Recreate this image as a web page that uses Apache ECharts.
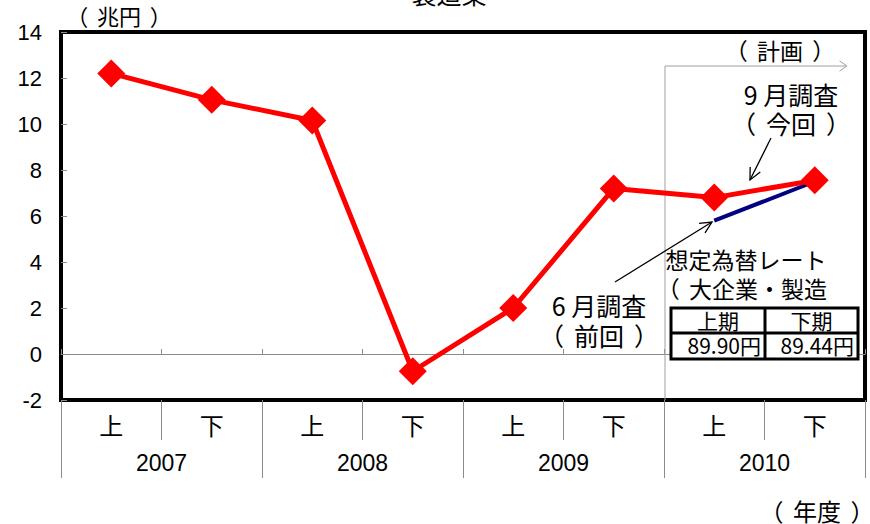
<!DOCTYPE html>
<html>
<head>
<meta charset="utf-8">
<script src="https://cdn.jsdelivr.net/npm/echarts@6/dist/echarts.min.js"></script>
<style>
html,body{margin:0;padding:0;background:#fff;}
#c{width:870px;height:524px;}
</style>
</head>
<body>
<div id="c"></div>
<script>
// ---- data ----
const halves = ['上', '下', '上', '下', '上', '下', '上', '下'];
const years = ['2007', '2008', '2009', '2010'];
const profitSept = [12.2, 11.05, 10.15, -0.75, 2.0, 7.2, 6.8, 7.55];      // 9月調査（今回）
const profitJune = [null, null, null, null, null, null, 5.8, 7.5];       // 6月調査（前回）
const yTicks = { min: -2, max: 14, interval: 2 };
const fxHeaders = ['上期', '下期'];
const fxValues = ['89.90円', '89.44円'];

const CJK = '"Noto Sans CJK JP", "Noto Sans CJK SC", sans-serif';
const LAT = '"Liberation Sans", Arial, sans-serif';
const GRAY = '#8c8c8c';

const chart = echarts.init(document.getElementById('c'), null, { renderer: 'svg' });

// full-width brackets drawn with their ink towards the outside of the em box
function richFor(size, lh) {
  const base = { fontFamily: CJK, fontSize: size, fill: '#000', lineHeight: lh };
  return {
    o: Object.assign({ width: 1.4 * size, align: 'left' }, base),
    c: Object.assign({ width: 1.4 * size, align: 'right' }, base),
    t: Object.assign({}, base)
  };
}
function fw(s) {
  return s.split('\n').map(line =>
    line.replace(/（/g, '\u0001').replace(/）/g, '\u0002')
        .split(/(\u0001|\u0002)/).filter(x => x.length)
        .map(x => x === '\u0001' ? '{o|（}' : x === '\u0002' ? '{c|）}' : '{t|' + x + '}').join('')
  ).join('\n');
}
// x = left edge of the first em box (for align left) or centre (align center)
function rtext(x, y, s, size, lh, align, z) {
  const startsOpen = s.charAt(0) === '（';
  const xx = (align === 'center') ? x : x - (startsOpen ? 0.4 * size : 0);
  return { type: 'text', x: xx, y: y, z: z || 5, style: { text: fw(s), rich: richFor(size, lh), align: align || 'left', font: size + 'px ' + CJK, fill: '#000', lineHeight: lh } };
}

function arrowHead(x1, y1, x2, y2, len, ang) {
  const a = Math.atan2(y2 - y1, x2 - x1);
  const p1 = [x2 - len * Math.cos(a - ang), y2 - len * Math.sin(a - ang)];
  const p2 = [x2 - len * Math.cos(a + ang), y2 - len * Math.sin(a + ang)];
  return [p1, [x2, y2], p2];
}

const blk = { stroke: '#000', lineWidth: 1.3, fill: null };
const gry = { stroke: '#a0a0a0', lineWidth: 1, fill: null };

const tableX = 671, tableY = 308, tableW = 187, tableH = 51, colX = 765, rowY = 333;

const option = {
  animation: false,
  backgroundColor: '#fff',
  grid: { left: 61, right: 5, top: 32, bottom: 124, show: true, borderColor: '#000', borderWidth: 4, backgroundColor: 'transparent' },
  xAxis: [
    {
      type: 'category', data: halves, position: 'bottom', boundaryGap: true,
      axisLine: { onZero: true, lineStyle: { color: GRAY, width: 1 } },
      axisTick: { show: true, inside: true, length: 5, lineStyle: { color: GRAY } },
      axisLabel: { show: false }, splitLine: { show: false }, z: 1
    },
    {
      type: 'category', data: halves, position: 'bottom', boundaryGap: true,
      axisLine: { show: true, onZero: false, lineStyle: { color: '#000', width: 4 } },
      axisTick: { show: true, interval: 0, length: 40, lineStyle: { color: GRAY, width: 1 } },
      axisLabel: { interval: 0, fontFamily: CJK, fontSize: 24, color: '#000', margin: 12 }
    },
    {
      type: 'category', data: years, position: 'bottom', boundaryGap: true,
      axisLine: { show: true, onZero: false, lineStyle: { color: '#000', width: 4 } },
      axisTick: { show: true, interval: 0, length: 78, lineStyle: { color: GRAY, width: 1 } },
      axisLabel: { interval: 0, fontFamily: LAT, fontSize: 23, color: '#000', margin: 51 }
    }
  ],
  yAxis: {
    type: 'value', min: yTicks.min, max: yTicks.max, interval: yTicks.interval,
    axisLine: { show: false },
    axisTick: { show: true, inside: true, length: 6, lineStyle: { color: GRAY } },
    axisLabel: { fontFamily: LAT, fontSize: 22, color: '#000', margin: 19 },
    splitLine: { show: false }
  },
  series: [
    {
      name: '6月調査', type: 'line', data: profitJune, xAxisIndex: 0,
      symbol: 'none', connectNulls: false,
      lineStyle: { color: '#000080', width: 4 }, z: 3
    },
    {
      name: '9月調査', type: 'line', data: profitSept, xAxisIndex: 0,
      symbol: 'diamond', symbolSize: 28,
      itemStyle: { color: '#ff0000' },
      lineStyle: { color: '#ff0000', width: 5 }, z: 4
    }
  ],
  graphic: [
    { type: 'text', x: 449, y: -20, style: { text: '製造業', font: '25px ' + CJK, fill: '#000', align: 'center' } },
    rtext(75, 2, '（兆円）', 22, 26),
    rtext(769, 498, '（年度）', 24, 24),
    { type: 'polyline', shape: { points: [[665, 400], [665, 66], [846, 66]] }, style: gry, z: 2 },
    { type: 'polyline', shape: { points: arrowHead(665, 66, 847, 66, 9, 0.6) }, style: gry, z: 2 },
    rtext(734, 37, '（計画）', 23, 26),
    rtext(791, 79, '9 月調査\n（今回）', 25, 29, 'center'),
    { type: 'line', shape: { x1: 771, y1: 138, x2: 750, y2: 180 }, style: blk, z: 5 },
    { type: 'polyline', shape: { points: arrowHead(771, 138, 750, 180, 13, 0.45) }, style: blk, z: 5 },
    rtext(599, 290, '6 月調査\n（前回）', 25, 30, 'center'),
    { type: 'line', shape: { x1: 615, y1: 282, x2: 712, y2: 222 }, style: blk, z: 5 },
    { type: 'polyline', shape: { points: arrowHead(615, 282, 712, 222, 13, 0.45) }, style: blk, z: 5 },
    rtext(746, 244, '想定為替レート', 23, 29.5, 'center', 6),
    rtext(666, 273.5, '（大企業・製造', 23, 29.5, 'left', 6),
    rtext(725, 303, '業）', 23, 29.5, 'left', 6),
    { type: 'rect', z: 7, shape: { x: tableX, y: tableY, width: tableW, height: tableH }, style: { fill: '#fff', stroke: '#000', lineWidth: 3 } },
    { type: 'line', z: 8, shape: { x1: tableX, y1: rowY, x2: tableX + tableW, y2: rowY }, style: { stroke: '#000', lineWidth: 3 } },
    { type: 'line', z: 8, shape: { x1: colX, y1: tableY, x2: colX, y2: tableY + tableH }, style: { stroke: '#000', lineWidth: 3 } },
    { type: 'text', z: 9, x: (tableX + colX) / 2, y: 309, style: { text: fxHeaders[0], font: '21px ' + CJK, fill: '#000', align: 'center' } },
    { type: 'text', z: 9, x: (colX + tableX + tableW) / 2, y: 309, style: { text: fxHeaders[1], font: '21px ' + CJK, fill: '#000', align: 'center' } },
    { type: 'text', z: 9, x: colX - 4, y: 334, style: { text: fxValues[0], font: '21px ' + CJK, fill: '#000', align: 'right' } },
    { type: 'text', z: 9, x: tableX + tableW - 4, y: 334, style: { text: fxValues[1], font: '21px ' + CJK, fill: '#000', align: 'right' } }
  ]
};
chart.setOption(option);
</script>
</body>
</html>
